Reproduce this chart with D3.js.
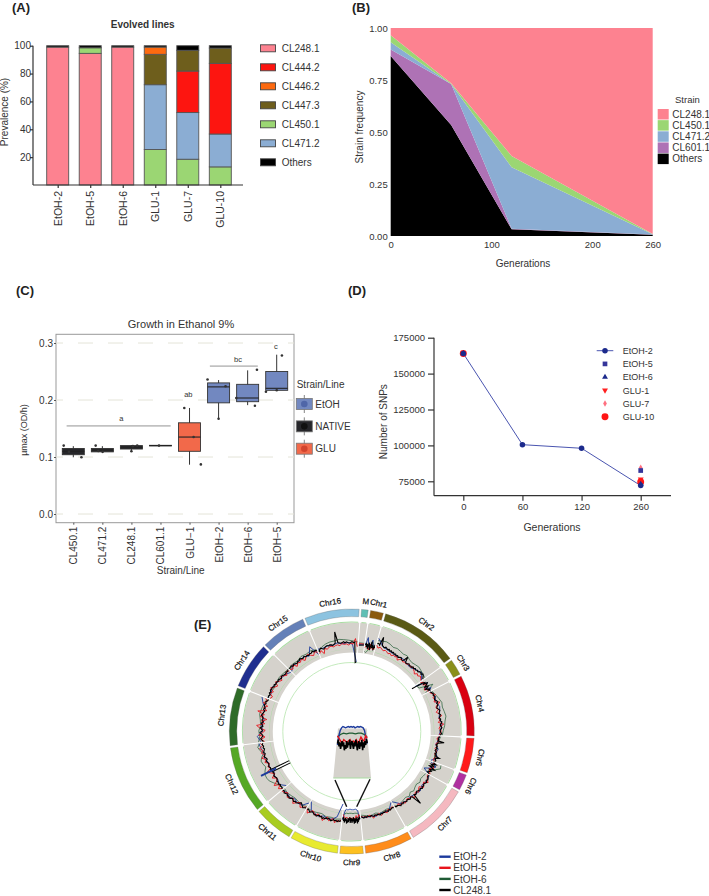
<!DOCTYPE html>
<html lang="en">
<head>
    <meta charset="UTF-8">
    <title>Evolved lines figure</title>
    <script src="https://d3js.org/d3.v7.min.js"></script>
    <style>
        body { margin: 0; background: #fff; font-family: 'Liberation Sans', Arial, sans-serif; }
        svg { display: block; }
        text { fill: #333; }
        .tag { font-size: 13px; font-weight: 700; fill: #222; }
        .axis-a path, .axis-a line, .axis-d path, .axis-d line { stroke: #333; stroke-width: 1.2; }
        .axis-b path { display: none; }
        .axis-b line { display: none; }
        .axis-c path { display: none; }
        .axis-c line { stroke: #555; }
    </style>
</head>
<body>
<svg width="709" height="896"></svg>
<script>
// panel A: prevalence of strains per evolved line
const linesA = ["EtOH-2", "EtOH-5", "EtOH-6", "GLU-1", "GLU-7", "GLU-10"];
const cl248A = [99, 94.5, 99, 0, 0, 0];
const cl450A = [0, 4, 0, 25.5, 18.5, 13];
const cl471A = [0, 0, 0, 46.5, 33.5, 23.6];
const cl444A = [0, 0, 0, 0, 29.8, 50.7];
const cl447A = [0, 0, 0, 21.8, 14.9, 11];
const cl446A = [0, 0, 0, 5.2, 0, 0];
const othersA = [1, 1.5, 1, 1, 3.3, 1.7];
const legendA = ["CL248.1", "CL444.2", "CL446.2", "CL447.3", "CL450.1", "CL471.2", "Others"];
const ticksA = [20, 40, 60, 80, 100];

// panel B: strain frequency over generations
const generations = [0, 60, 120, 260];
const othersB = [0.865, 0.534, 0.032, 0.006];
const cl601B = [0.032, 0.197, 0.003, 0.001];
const cl471B = [0.034, 0, 0.295, 0.001];
const cl450B = [0.034, 0.003, 0.055, 0.002];
const cl248B = [0.035, 0.266, 0.615, 0.99];
const legendB = ["CL248.1", "CL450.1", "CL471.2", "CL601.1", "Others"];

// panel C: growth boxes
const strainsC = ["CL450.1", "CL471.2", "CL248.1", "CL601.1", "GLU\u22121", "EtOH\u22122", "EtOH\u22126", "EtOH\u22125"];
const groupC = ["NATIVE", "NATIVE", "NATIVE", "NATIVE", "GLU", "EtOH", "EtOH", "EtOH"];
const q1C = [0.104, 0.109, 0.114, 0.1195, 0.110, 0.195, 0.197, 0.217];
const medC = [0.110, 0.112, 0.117, 0.120, 0.135, 0.223, 0.2035, 0.2205];
const q3C = [0.115, 0.115, 0.120, 0.1205, 0.160, 0.230, 0.2275, 0.250];
const loC = [0.0995, 0.1076, 0.109, 0.120, 0.0865, 0.167, 0.191, 0.216];
const hiC = [0.119, 0.119, 0.121, 0.120, 0.186, 0.235, 0.252, 0.2795];
// [strain index, jitter in category steps, value]
const pointsC = [
    [0, -0.33, 0.12], [0, -0.15, 0.109], [0, 0.28, 0.0995],
    [1, -0.23, 0.12], [1, -0.14, 0.1105], [1, 0.01, 0.109],
    [2, 0, 0.11], [2, 0.05, 0.119], [2, 0.2, 0.12],
    [3, -0.05, 0.12],
    [4, -0.18, 0.186], [4, 0.14, 0.135], [4, 0.39, 0.087],
    [5, -0.38, 0.236], [5, 0.24, 0.224], [5, 0, 0.167],
    [6, -0.39, 0.2035], [6, 0.32, 0.253], [6, 0.25, 0.19],
    [7, -0.37, 0.2145], [7, 0, 0.217], [7, 0.18, 0.278]
];
// [label, from category, to category, value]
const sigLines = [["a", -0.23, 3.35, 0.1545], ["bc", 4.7, 6.35, 0.2595]];
// [label, category, value]
const sigLetters = [["a", 1.65, 0.1625], ["bc", 5.67, 0.2665], ["ab", 3.96, 0.2055], ["c", 6.97, 0.289]];
const legendC = ["EtOH", "NATIVE", "GLU"];

// panel D: SNP counts
const gensD = [0, 60, 120, 260];
const etoh2D = [164000, 100500, 98000, 72000];
const endNamesD = ["EtOH-5", "EtOH-6", "GLU-1", "GLU-7", "GLU-10"];
const startD = [164000, 164000, 164000, 164000, 164000];
const endD = [82500, 73000, 76500, 84500, 74500];
const ticksD = [75000, 100000, 125000, 150000, 175000];

// panel E: circular genome coverage
const chrNames = ["M", "Chr1", "Chr2", "Chr3", "Chr4", "Chr5", "Chr6", "Chr7", "Chr8", "Chr9", "Chr10", "Chr11", "Chr12", "Chr13", "Chr14", "Chr15", "Chr16"];
const chrSizes = [3.5, 6.5, 38, 8, 29.5, 17, 8, 31, 23, 11.5, 23.5, 19, 32.5, 28, 22.5, 22, 26.5];
const traceBlack = [
    [44, 46],
    [46, 52, 42, 50, 38, 46, 54, 44, 36, 48, 58, 42, 50, 44, 40, 48, 44],
    [56, 58, 54, 76, 56, 54, 52, 55, 53, 51, 53, 50, 52, 49, 51, 48, 50, 47, 49, 46, 48, 50, 47, 45, 48, 60, 47, 45, 47, 49, 46, 48, 47, 50, 48, 51, 49, 52, 50, 53, 55, 52, 56, 54, 51, 48],
    [12, 28, 42, 47, 43, 52, 49, 45, 41, 50, 46, 40, 44, 49, 46, 50],
    [47, 50, 52, 50, 53, 51, 49, 52, 55, 51, 53, 50, 48, 51, 54, 52, 50, 53, 51, 49, 52, 50, 54, 52, 49, 51, 53, 50, 48, 50, 52, 49],
    [48, 46, 44, 46, 44, 60, 45, 43, 41, 44, 42, 45, 43, 41, 44, 46, 43, 47, 45, 56, 46, 48, 50, 48],
    [46, 54, 42, 50, 40, 48, 56, 44, 50, 46, 42, 48],
    [50, 48, 51, 53, 50, 54, 52, 50, 53, 51, 54, 50, 52, 50, 48, 50, 52, 49, 76, 50, 48, 51, 49, 47, 50, 48, 46, 49, 47, 50, 47, 45, 46, 44],
    [45, 43, 44, 46, 44, 47, 45, 43, 46, 44, 47, 45, 48, 46, 44, 46, 44, 47, 45, 43, 46, 44, 42, 45, 43, 46, 44, 42],
    [47, 41, 50, 44, 54, 46, 58, 42, 52, 46, 56, 44, 50, 58, 48, 42, 52, 46, 56, 50, 44, 48, 56, 42, 50, 46, 54, 44, 56, 50, 58, 46, 52, 44, 50, 56, 46, 52, 42, 48],
    [52, 54, 53, 56, 53, 55, 52, 55, 57, 54, 52, 55, 53, 56, 54, 57, 53, 55, 52, 54, 57, 54, 56, 53, 51, 53, 55, 52, 50, 52],
    [50, 52, 54, 51, 48, 46, 50, 52, 54, 52, 55, 53, 51, 54, 56, 53, 55, 52, 54, 56, 52, 54],
    [53, 51, 52, 50, 53, 51, 52, 49, 48, 50, 52, 49, 48, 50, 52, 51, 50, 53, 51, 50, 52, 54, 50, 52, 55, 53, 51, 54, 52, 50, 53, 51, 54, 52],
    [50, 53, 56, 52, 50, 54, 57, 51, 53, 56, 50, 52, 55, 50, 54, 52, 53, 57, 55, 53, 51, 55, 52, 54, 56, 53, 55, 52, 50],
    [52, 54, 51, 55, 53, 56, 54, 55, 52, 54, 51, 53, 50, 52, 50, 48, 51, 50, 48, 47, 49, 47, 50],
    [50, 48, 51, 47, 50, 48, 46, 49, 48, 51, 49, 47, 50, 47, 48, 46, 49, 48, 51, 48, 50, 47],
    [42, 47, 50, 47, 45, 48, 50, 51, 49, 51, 50, 48, 50, 52, 80, 52, 51, 50, 51, 53, 50, 52, 50, 49, 50, 52, 50, 51, 0, 2]
];
const traceRed = [
    [48, 48],
    [40, 46, 42, 36, 50, 40, 46, 38, 44],
    [52, 46, 50, 47, 44, 47, 45, 42, 45, 41, 45, 43, 46, 39, 44, 47, 43, 46, 44, 47, 48, 45, 50, 46, 44, 40, 46, 43, 48, 45, 42],
    [38, 46, 40, 48, 42, 36, 46, 42],
    [45, 49, 56, 47, 51, 46, 60, 49, 46, 51, 44, 50, 56, 47, 50, 45, 58, 48, 46, 51, 49, 47],
    [45, 41, 47, 40, 44, 40, 46, 42, 47, 43, 46],
    [48, 44, 52, 42, 46, 50],
    [45, 48, 51, 57, 47, 50, 55, 45, 48, 53, 47, 50, 56, 47, 50, 45, 48, 51, 45, 48, 42, 46, 44],
    [43, 41, 46, 42, 49, 44, 46, 50, 43, 47, 44, 51, 44, 41, 46, 42, 44, 41],
    [40, 36, 44, 42, 38, 44, 47, 42, 46, 44, 47, 42, 44, 46, 44, 42, 47, 44, 40, 36],
    [50, 56, 52, 60, 50, 54, 58, 50, 55, 62, 52, 55, 50, 57, 52, 48, 53, 60, 50],
    [48, 52, 57, 47, 52, 60, 50, 54, 58, 49, 54, 57],
    [52, 60, 50, 64, 52, 48, 58, 47, 54, 62, 50, 55, 48, 58, 53, 62, 52, 60, 55, 62, 53, 58],
    [47, 56, 45, 60, 50, 44, 58, 66, 46, 55, 42, 60, 50, 68, 46, 56, 47, 60, 52, 58],
    [48, 44, 54, 47, 58, 50, 45, 55, 48, 44, 52, 47, 42, 50, 45],
    [46, 42, 50, 40, 46, 43, 48, 40, 46, 50, 44, 40, 48, 43],
    [38, 44, 34, 46, 42, 46, 47, 44, 46, 47, 44, 49, 46, 47, 44, 48, 46, 60, 40]
];
const traceBlue = [
    [46, 46],
    [46, 66, 48, 40, 62, 44, 50],
    [70, 54, 50, 48, 46, 50, 46, 44, 50, 56, 44],
    [22, 40, 52, 46, 38, 54, 44],
    [48, 54, 50, 56, 52, 48, 54, 50, 46],
    [46, 44, 40, 48, 44, 52, 38],
    [40, 56, 46, 30, 44],
    [50, 52, 48, 54, 50, 46, 48, 44, 30],
    [30, 44, 46, 44, 48, 44, 46, 42],
    [48, 38, 28, 24, 23, 22, 23, 22, 23, 24, 22, 23, 22, 23, 22, 23, 24, 23, 22, 24, 28, 36, 50],
    [10, 44, 52, 54, 50, 56, 52, 50, 30],
    [36, 50, 52, 48, 54, 50, 54],
    [40, 52, 48, 50, 46, 52, 50, 56, 54, 58, 62],
    [56, 64, 50, 54, 48, 56, 50, 60, 68],
    [54, 50, 56, 52, 50, 48, 46, 40],
    [40, 50, 46, 48, 50, 44, 64, 38],
    [50, 48, 50, 48, 52, 48, 50, 46, 2]
];
const traceGreen = [
    [50, 50],
    [30, 28, 34, 46, 58, 48, 40],
    [64, 66, 68, 66, 62, 64, 62, 60, 62, 58, 56, 58, 60, 58, 56, 54],
    [32, 26, 28, 44, 62, 50, 36],
    [52, 56, 60, 64, 62, 64, 66, 62, 60, 56, 54],
    [50, 46, 44, 46, 42, 44, 46],
    [66, 68, 56, 42, 44],
    [40, 38, 36, 40, 36, 38, 42, 38, 44, 40, 42, 44, 46, 42],
    [44, 42, 40, 42, 44, 40, 42, 44, 40, 38],
    [38, 34, 32, 32, 33, 32, 32, 33, 32, 34, 38],
    [48, 50, 48, 50, 46, 48, 50, 48],
    [46, 50, 48, 46, 48, 50, 48],
    [50, 52, 56, 62, 68, 70, 70, 66, 60, 64, 66, 62, 55, 62, 66, 60],
    [62, 58, 60, 56, 58, 62, 60, 58, 54],
    [54, 52, 50, 52, 54, 52, 50],
    [50, 52, 50, 54, 52, 54, 50],
    [46, 52, 56, 58, 58, 60, 58, 56, 54, 52]
];
const rdnaBar = [0, 52];
const rdnaBlue = [38, 80];
const legendE = ["EtOH-2", "EtOH-5", "EtOH-6", "CL248.1"];

const strainColors = {
    "CL248.1": "#fd8290", "CL444.2": "#fd1510", "CL446.2": "#fd6a10", "CL447.3": "#6e5e1c",
    "CL450.1": "#9bd673", "CL471.2": "#8badd3", "CL601.1": "#ae72b5", "Others": "#000"
};
const groupColors = { EtOH: "#7288c0", NATIVE: "#26262a", GLU: "#f2694a" };
const groupDots = { EtOH: "#4f66a8", NATIVE: "#111", GLU: "#d2452e" };
const chrColors = ["#5fbfb5", "#8a5a10", "#5a5a15", "#8a8f1a", "#d90010", "#ff1a1a", "#b030a0", "#f5b8c0", "#ff8c1a", "#fdc020", "#e8ea30", "#a8cc20", "#55a825", "#2e6b28", "#1f2e8f", "#6480b8", "#8cc3e0"];
const traceColors = { "EtOH-2": "#1c3a9c", "EtOH-5": "#e8141c", "EtOH-6": "#1f5a34", "CL248.1": "#000" };

const svg = d3.select("svg");

function tag(label, x, y) {
    svg.append("text").attr("class", "tag").attr("x", x).attr("y", y).text(label);
}
tag("(A)", 12, 12);
tag("(B)", 352, 12);
tag("(C)", 16, 295);
tag("(D)", 348, 295);
tag("(E)", 194, 629);

// ---- panel A ----
const xA = d3.scalePoint().domain(linesA).range([57.7, 220.3]);
const yA = d3.scaleLinear().domain([0, 100]).range([185, 45.7]);
const rowsA = linesA.map((name, i) => ({
    name,
    "CL248.1": cl248A[i], "CL450.1": cl450A[i], "CL471.2": cl471A[i], "CL444.2": cl444A[i],
    "CL447.3": cl447A[i], "CL446.2": cl446A[i], "Others": othersA[i]
}));
const keysA = ["CL248.1", "CL450.1", "CL471.2", "CL444.2", "CL447.3", "CL446.2", "Others"];
const stackA = d3.stack().keys(keysA)(rowsA);

svg.append("g").selectAll("g")
    .data(stackA)
    .enter().append("g")
    .attr("fill", d => strainColors[d.key])
    .selectAll("rect")
    .data(d => d.filter(p => p[1] > p[0]))
    .enter().append("rect")
    .attr("x", d => xA(d.data.name) - 11)
    .attr("width", 22)
    .attr("y", d => yA(d[1]))
    .attr("height", d => yA(d[0]) - yA(d[1]))
    .attr("stroke", "#555")
    .attr("stroke-width", 0.9);

svg.append("g").attr("class", "axis-a")
    .attr("transform", "translate(33,0)")
    .call(d3.axisLeft(yA).tickValues(ticksA).tickSize(3))
    .call(g => g.select(".domain").attr("d", "M0,45.7V185"))
    .selectAll("text").attr("font-size", 10).attr("font-family", "inherit").attr("x", -2);

svg.append("g").attr("class", "axis-a")
    .attr("transform", "translate(0,185)")
    .call(d3.axisBottom(xA).tickSize(3))
    .call(g => g.select(".domain").attr("d", "M33,0H243"))
    .selectAll("text")
    .attr("font-size", 10.5).attr("font-family", "inherit")
    .attr("transform", "rotate(-90)")
    .attr("text-anchor", "end").attr("x", -6).attr("y", 0).attr("dy", "0.35em");

svg.append("text").attr("x", 142.7).attr("y", 28).attr("text-anchor", "middle")
    .attr("font-size", 10).attr("font-weight", 700).text("Evolved lines");
svg.append("text").attr("transform", "translate(8,112) rotate(-90)").attr("text-anchor", "middle")
    .attr("font-size", 10).text("Prevalence (%)");

const legendYA = d3.scalePoint().domain(legendA).range([48.3, 162.3]);
svg.append("g").selectAll("rect").data(legendA).enter().append("rect")
    .attr("x", 260.5).attr("width", 15).attr("height", 7)
    .attr("y", d => legendYA(d) - 3.5)
    .attr("fill", d => strainColors[d]).attr("stroke", "#444").attr("stroke-width", 0.9);
svg.append("g").selectAll("text").data(legendA).enter().append("text")
    .attr("x", 281.7).attr("y", d => legendYA(d) + 3.5)
    .attr("font-size", 10).text(d => d);

// ---- panel B ----
const xB = d3.scaleLinear().domain([0, 260]).range([390.7, 652.7]);
const yB = d3.scaleLinear().domain([0, 1]).range([236, 28]);
const rowsB = generations.map((g, i) => ({
    g, "Others": othersB[i], "CL601.1": cl601B[i], "CL471.2": cl471B[i], "CL450.1": cl450B[i], "CL248.1": cl248B[i]
}));
const stackB = d3.stack().keys(["Others", "CL601.1", "CL471.2", "CL450.1", "CL248.1"])(rowsB);
const areaB = d3.area().x(d => xB(d.data.g)).y0(d => yB(d[0])).y1(d => yB(d[1]));

svg.append("g").selectAll("path").data(stackB).enter().append("path")
    .attr("d", areaB).attr("fill", d => strainColors[d.key]);

svg.append("g").attr("class", "axis-b").attr("transform", "translate(390.7,0)")
    .call(d3.axisLeft(yB).tickValues([0, 0.25, 0.5, 0.75, 1]).tickFormat(d3.format(".2f")).tickSize(0))
    .selectAll("text").attr("font-size", 9.5).attr("font-family", "inherit").attr("fill", "#555").attr("x", -3);
svg.append("g").attr("class", "axis-b").attr("transform", "translate(0,236)")
    .call(d3.axisBottom(xB).tickValues([0, 100, 200, 260]).tickFormat(d3.format("d")).tickSize(0))
    .selectAll("text").attr("font-size", 9.5).attr("font-family", "inherit").attr("fill", "#555").attr("y", 5);

svg.append("text").attr("x", 523).attr("y", 266.5).attr("text-anchor", "middle").attr("font-size", 10).text("Generations");
svg.append("text").attr("transform", "translate(363,127) rotate(-90)").attr("text-anchor", "middle").attr("font-size", 10).text("Strain frequency");
svg.append("text").attr("x", 675).attr("y", 103).attr("font-size", 9.5).text("Strain");

const legendYB = d3.scalePoint().domain(legendB).range([114.2, 158.8]);
svg.append("g").selectAll("rect").data(legendB).enter().append("rect")
    .attr("x", 657.7).attr("width", 11).attr("height", 10.5)
    .attr("y", d => legendYB(d) - 5.2).attr("fill", d => strainColors[d]);
svg.append("g").selectAll("text").data(legendB).enter().append("text")
    .attr("x", 672.3).attr("y", d => legendYB(d) + 3.3).attr("font-size", 10).text(d => d);

// ---- panel C ----
const xC = d3.scalePoint().domain(strainsC).range([73.3, 276.7]);
const stepC = xC.step();
const xPos = d3.scaleLinear().domain([0, 7]).range([73.3, 276.7]);
const yC = d3.scaleLinear().domain([0, 0.3]).range([514, 343]);
const boxW = 22;

svg.append("rect").attr("x", 56).attr("y", 334.3).attr("width", 238).attr("height", 188.4)
    .attr("fill", "#fff").attr("stroke", "#999").attr("stroke-width", 1);
svg.append("g").selectAll("line").data([0, 0.1, 0.2, 0.3]).enter().append("line")
    .attr("x1", 56).attr("x2", 294)
    .attr("y1", d => yC(d)).attr("y2", d => yC(d))
    .attr("stroke", "#e4e4d8").attr("stroke-dasharray", "15,15").attr("stroke-dashoffset", 8);

svg.append("g").attr("class", "axis-c").attr("transform", "translate(56,0)")
    .call(d3.axisLeft(yC).tickValues([0, 0.1, 0.2, 0.3]).tickFormat(d3.format(".1f")).tickSize(2))
    .selectAll("text").attr("font-size", 10).attr("font-family", "inherit").attr("fill", "#444").attr("x", -3);
svg.append("g").attr("class", "axis-c").attr("transform", "translate(0,522.7)")
    .call(d3.axisBottom(xC).tickSize(2))
    .selectAll("text").attr("font-size", 10).attr("font-family", "inherit").attr("fill", "#444")
    .attr("transform", "rotate(-90)").attr("text-anchor", "end").attr("x", -4).attr("y", 0).attr("dy", "0.35em");

const boxes = svg.append("g").selectAll("g").data(strainsC).enter().append("g");
boxes.append("line")
    .attr("x1", d => xC(d)).attr("x2", d => xC(d))
    .attr("y1", (d, i) => yC(loC[i])).attr("y2", (d, i) => yC(hiC[i]))
    .attr("stroke", "#333").attr("stroke-width", 1);
boxes.append("rect")
    .attr("x", d => xC(d) - boxW / 2).attr("width", boxW)
    .attr("y", (d, i) => yC(q3C[i])).attr("height", (d, i) => yC(q1C[i]) - yC(q3C[i]))
    .attr("fill", (d, i) => groupColors[groupC[i]]).attr("stroke", "#333").attr("stroke-width", 0.9);
boxes.append("line")
    .attr("x1", d => xC(d) - boxW / 2).attr("x2", d => xC(d) + boxW / 2)
    .attr("y1", (d, i) => yC(medC[i])).attr("y2", (d, i) => yC(medC[i]))
    .attr("stroke", "#222").attr("stroke-width", 1.1);

svg.append("g").selectAll("circle").data(pointsC).enter().append("circle")
    .attr("cx", d => xC(strainsC[d[0]]) + d[1] * stepC)
    .attr("cy", d => yC(d[2])).attr("r", 1.3).attr("fill", "#333");

svg.append("text").attr("x", 181).attr("y", 327.7).attr("text-anchor", "middle").attr("font-size", 11).text("Growth in Ethanol 9%");
svg.append("text").attr("transform", "translate(27,430) rotate(-90)").attr("text-anchor", "middle").attr("font-size", 9).text("\u00b5max (OD/h)");
svg.append("text").attr("x", 180.7).attr("y", 574).attr("text-anchor", "middle").attr("font-size", 10).text("Strain/Line");

// significance letters
svg.append("g").selectAll("line").data(sigLines).enter().append("line")
    .attr("x1", d => xPos(d[1])).attr("x2", d => xPos(d[2]))
    .attr("y1", d => yC(d[3])).attr("y2", d => yC(d[3]))
    .attr("stroke", "#888").attr("stroke-width", 0.9);
svg.append("g").selectAll("text").data(sigLetters).enter().append("text")
    .attr("x", d => xPos(d[1])).attr("y", d => yC(d[2])).attr("text-anchor", "middle")
    .attr("font-size", 7.5).text(d => d[0]);

svg.append("text").attr("x", 296.7).attr("y", 387.7).attr("font-size", 10).text("Strain/Line");
const legendYC = d3.scalePoint().domain(legendC).range([404, 448.7]);
const keyC = svg.append("g").selectAll("g").data(legendC).enter().append("g");
keyC.append("line").attr("x1", 304.3).attr("x2", 304.3)
    .attr("y1", d => legendYC(d) - 9).attr("y2", d => legendYC(d) + 9).attr("stroke", "#666").attr("stroke-width", 0.8);
keyC.append("rect").attr("x", 296.3).attr("width", 16).attr("height", 11)
    .attr("y", d => legendYC(d) - 5.5).attr("fill", d => groupColors[d]).attr("stroke", "#777").attr("stroke-width", 0.8);
keyC.append("circle").attr("cx", 304.3).attr("cy", d => legendYC(d)).attr("r", 3.3).attr("fill", d => groupDots[d]);
keyC.append("text").attr("x", 315.3).attr("y", d => legendYC(d) + 3.5).attr("font-size", 10).text(d => d);

// ---- panel D ----
const xD = d3.scalePoint().domain(gensD).range([463.3, 640.7]);
const yD = d3.scaleLinear().domain([75000, 175000]).range([481.3, 337.7]);
const navy = "#1c2a8c";
const markersD = {
    "EtOH-2": { type: d3.symbolCircle, size: 24, color: navy },
    "EtOH-5": { type: d3.symbolSquare, size: 22, color: "#35359a" },
    "EtOH-6": { type: d3.symbolTriangle, size: 15, color: navy },
    "GLU-1": { type: d3.symbolTriangle, size: 15, color: "#ff2020", flip: true },
    "GLU-7": { type: d3.symbolDiamond, size: 12, color: "#ff7080" },
    "GLU-10": { type: d3.symbolCircle, size: 38, color: "#ff1515" }
};
function symbolD(name) {
    return d3.symbol().type(markersD[name].type).size(markersD[name].size)();
}

svg.append("g").attr("class", "axis-d").attr("transform", "translate(434,0)")
    .call(d3.axisLeft(yD).tickValues(ticksD).tickFormat(d3.format("d")).tickSize(6))
    .call(g => g.select(".domain").attr("d", "M0,337.7V495.7"))
    .selectAll("text").attr("font-size", 9.5).attr("font-family", "inherit").attr("x", -9);
svg.append("g").attr("class", "axis-d").attr("transform", "translate(0,495.7)")
    .call(d3.axisBottom(xD).tickSize(5))
    .call(g => g.select(".domain").attr("d", "M434,0H671"))
    .selectAll("text").attr("font-size", 9.5).attr("font-family", "inherit").attr("y", 8);

const lineD = d3.line().x((d, i) => xD(gensD[i])).y(d => yD(d));
svg.append("path").attr("d", lineD(etoh2D)).attr("fill", "none").attr("stroke", "#4a55b0").attr("stroke-width", 1);

const pointsD = [];
endNamesD.forEach((name, i) => {
    pointsD.push({ name, g: 0, v: startD[i] });
    pointsD.push({ name, g: 260, v: endD[i] });
});
const orderD = ["GLU-7", "EtOH-5", "GLU-1", "GLU-10", "EtOH-6"];
orderD.forEach(name => {
    svg.append("g").selectAll("path").data(pointsD.filter(p => p.name === name)).enter().append("path")
        .attr("d", symbolD(name))
        .attr("transform", d => `translate(${xD(d.g)},${yD(d.v)})${markersD[name].flip ? " rotate(180)" : ""}`)
        .attr("fill", markersD[name].color);
});
svg.append("g").selectAll("path").data(etoh2D).enter().append("path")
    .attr("d", symbolD("EtOH-2"))
    .attr("transform", (d, i) => `translate(${xD(gensD[i])},${yD(d)})`)
    .attr("fill", navy);

svg.append("text").attr("x", 552).attr("y", 530.7).attr("text-anchor", "middle").attr("font-size", 10.5).text("Generations");
svg.append("text").attr("transform", "translate(387,421.7) rotate(-90)").attr("text-anchor", "middle").attr("font-size", 10).text("Number of SNPs");

const namesD = ["EtOH-2"].concat(endNamesD);
const legendYD = d3.scalePoint().domain(namesD).range([350.7, 416.7]);
svg.append("line").attr("x1", 596.7).attr("x2", 613.3).attr("y1", legendYD("EtOH-2")).attr("y2", legendYD("EtOH-2"))
    .attr("stroke", "#4a55b0").attr("stroke-width", 1);
svg.append("g").selectAll("path").data(namesD).enter().append("path")
    .attr("d", d => symbolD(d))
    .attr("transform", d => `translate(605,${legendYD(d)})${markersD[d].flip ? " rotate(180)" : ""}`)
    .attr("fill", d => markersD[d].color);
svg.append("g").selectAll("text").data(namesD).enter().append("text")
    .attr("x", 622.7).attr("y", d => legendYD(d) + 3.2).attr("font-size", 9).attr("fill", "#444").text(d => d);

// ---- panel E ----
const cx = 351.8, cy = 731.5;
const deg = Math.PI / 180;
const rV = d3.scaleLinear().domain([0, 100]).range([69, 109]);
const pie = d3.pie().sort(null).startAngle(4 * deg).endAngle(364 * deg).padAngle(0.8 * deg);
const chrArcs = pie(chrSizes);
const circos = svg.append("g").attr("transform", `translate(${cx},${cy})`);

circos.selectAll(".chr").data(chrArcs).enter().append("path")
    .attr("d", d3.arc().innerRadius(115).outerRadius(122.5))
    .attr("fill", (d, i) => chrColors[i]).attr("stroke", "#666").attr("stroke-width", 0.3);

const sector = d3.arc().innerRadius(rV(25)).outerRadius(rV(100))
    .startAngle(d => d.startAngle + 0.5 * deg).endAngle(d => d.endAngle - 0.1 * deg).padAngle(0);
circos.selectAll(".sector").data(chrArcs).enter().append("path")
    .attr("d", sector).attr("fill", "#d5d2cc");

// thin green guide rings
const guide = d3.arc().startAngle(d => d.startAngle + 0.5 * deg).endAngle(d => d.endAngle - 0.1 * deg);
circos.selectAll(".guide-out").data(chrArcs).enter().append("path")
    .attr("d", d => guide.innerRadius(rV(100)).outerRadius(rV(100) + 0.9)(d)).attr("fill", "#a9dca2");
circos.selectAll(".guide-mid").data(chrArcs).enter().append("path")
    .attr("d", d => guide.innerRadius(rV(33)).outerRadius(rV(33) + 0.4)(d)).attr("fill", "#a9dca2");
circos.append("circle").attr("r", rV(0)).attr("fill", "none").attr("stroke", "#bde8b6").attr("stroke-width", 0.9);

function tracePath(values, d) {
    const ang = d3.scaleLinear().domain([0, values.length - 1]).range([d.startAngle + 0.7 * deg, d.endAngle - 0.3 * deg]);
    return d3.lineRadial().angle((v, i) => ang(i)).radius(v => rV(v))(values);
}
const layers = [
    { data: traceGreen, color: traceColors["EtOH-6"], w: 0.7 },
    { data: traceBlue, color: traceColors["EtOH-2"], w: 0.9 },
    { data: traceRed, color: traceColors["EtOH-5"], w: 0.9 },
    { data: traceBlack, color: traceColors["CL248.1"], w: 1.1 }
];
layers.forEach(layer => {
    circos.append("g").selectAll("path").data(chrArcs).enter().append("path")
        .attr("d", (d, i) => tracePath(layer.data[i], d))
        .attr("fill", "none").attr("stroke", layer.color).attr("stroke-width", layer.w);
});

// rDNA locus on Chr12 runs off the track
const rdnaAngle = 244 * deg;
const radial = d3.lineRadial().angle(rdnaAngle).radius(v => rV(v));
circos.append("path").attr("d", radial(rdnaBar)).attr("stroke", "#000").attr("stroke-width", 3.6);
circos.append("path").attr("d", radial(rdnaBar)).attr("stroke", "#fff").attr("stroke-width", 1.5);
circos.append("path").attr("d", radial(rdnaBlue)).attr("stroke", traceColors["EtOH-2"]).attr("stroke-width", 2);

circos.selectAll(".chr-label").data(chrArcs).enter().append("text")
    .attr("transform", d => {
        const mid = (d.startAngle + d.endAngle) / 2 / deg;
        const rot = mid < 120 ? mid : (mid < 270 ? mid - 180 : mid - 360);
        const px = 131 * Math.sin(mid * deg), py = -131 * Math.cos(mid * deg);
        return `translate(${px},${py}) rotate(${rot})`;
    })
    .attr("text-anchor", "middle").attr("dy", "0.35em")
    .attr("font-size", 8).style("fill", "#111").attr("stroke", "#111").attr("stroke-width", 0.2)
    .text((d, i) => chrNames[i]);

// enlarged Chr9 in the middle
const chr9 = chrNames.indexOf("Chr9");
const insetY = d3.scaleLinear().domain([0, 100]).range([712, 778]);
const insetTop = [338, 366.7];
const insetBottom = [333.3, 371];
svg.append("path")
    .attr("d", d3.line()([[insetTop[0], insetY(25)], [insetTop[1], insetY(25)], [insetBottom[1], insetY(100)], [insetBottom[0], insetY(100)]]) + "Z")
    .attr("fill", "#d5d2cc");
svg.append("line").attr("x1", insetBottom[0]).attr("x2", insetBottom[1]).attr("y1", insetY(100)).attr("y2", insetY(100))
    .attr("stroke", "#a9dca2").attr("stroke-width", 1.2);
svg.append("line").attr("x1", insetTop[0]).attr("x2", insetTop[1]).attr("y1", insetY(33)).attr("y2", insetY(33))
    .attr("stroke", "#a9dca2").attr("stroke-width", 0.6);
layers.forEach(layer => {
    const values = layer.data[chr9];
    const xI = d3.scaleLinear().domain([values.length - 1, 0]).range([insetTop[0] - 0.5, insetTop[1] + 0.5]);
    svg.append("path")
        .attr("d", d3.line().x((v, i) => xI(i)).y(v => insetY(v))(values))
        .attr("fill", "none").attr("stroke", layer.color).attr("stroke-width", layer.w + 0.5);
});
svg.append("line").attr("x1", 335).attr("y1", 780).attr("x2", 346.7).attr("y2", 806.7).attr("stroke", "#111").attr("stroke-width", 1.4);
svg.append("line").attr("x1", 370).attr("y1", 779.3).attr("x2", 356.7).attr("y2", 806.7).attr("stroke", "#111").attr("stroke-width", 1.4);

const legendYE = d3.scalePoint().domain(legendE).range([856.7, 890]);
svg.append("g").selectAll("line").data(legendE).enter().append("line")
    .attr("x1", 439.3).attr("x2", 450.7).attr("y1", d => legendYE(d)).attr("y2", d => legendYE(d))
    .attr("stroke", d => traceColors[d]).attr("stroke-width", 2.4);
svg.append("g").selectAll("text").data(legendE).enter().append("text")
    .attr("x", 453.3).attr("y", d => legendYE(d) + 3.6).attr("font-size", 10).text(d => d);
</script>
</body>
</html>
